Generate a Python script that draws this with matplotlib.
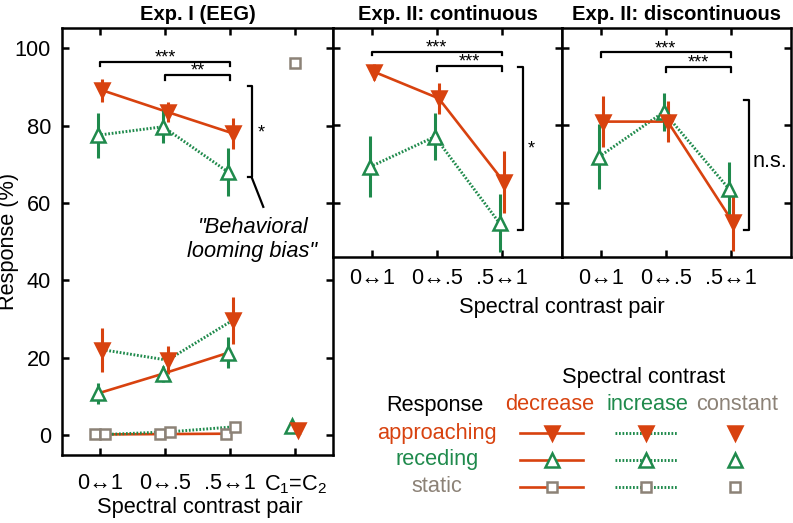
import numpy as np
import matplotlib.pyplot as plt

plt.rcParams['font.family'] = ['Liberation Sans', 'DejaVu Sans']
plt.rcParams['mathtext.default'] = 'regular'

RED = '#d8420f'
GREEN = '#1f8a4c'
GRAY = '#8c8277'

pairs3 = ['0\u21941', '0\u2194.5', '.5\u21941']
pairs4 = pairs3 + ['C$_1$=C$_2$']
x3 = np.array([1, 2, 3])

# Exp. I (EEG)  -- app = approaching, rec = receding, sta = static
e1_app_dec = [89.1, 83.5, 78.0]
e1_app_dec_err = [2.9, 2.5, 4.0]
e1_rec_inc = [77.5, 79.7, 68.0]
e1_rec_inc_err = [5.8, 4.3, 6.3]
e1_app_inc = [22.1, 19.4, 29.7]
e1_app_inc_err = [5.7, 3.7, 6.1]
e1_rec_dec = [10.8, 15.9, 21.3]
e1_rec_dec_err = [2.6, 2.1, 4.0]
e1_sta_dec = [0.2, 0.3, 0.4]
e1_sta_inc = [0.2, 0.9, 2.2]
e1_const_app = 1.3
e1_const_rec = 2.4
e1_const_sta = 96.2

# Exp. II continuous
e2c_app_dec = [93.9, 87.0, 65.5]
e2c_app_dec_err = [2.1, 4.1, 8.0]
e2c_rec_inc = [69.3, 77.1, 54.7]
e2c_rec_inc_err = [7.9, 6.0, 7.5]

# Exp. II discontinuous
e2d_app_dec = [81.0, 81.0, 55.1]
e2d_app_dec_err = [6.6, 5.3, 7.5]
e2d_rec_inc = [71.9, 83.5, 63.7]
e2d_rec_inc_err = [8.4, 4.9, 6.8]

FS = 15.7
DOT = (0, (0.6, 0.6))


def series(ax, x, y, err, lc, ls, mk, mc, mfc, ms=10):
    ax.plot(x, y, color=lc, ls=ls, lw=2.1 if ls == DOT else 1.9, zorder=2)
    if err is not None:
        ax.errorbar(x, y, yerr=err, fmt='none', ecolor=mc, elinewidth=2.2, zorder=3)
    ax.plot(x, y, ls='none', marker=mk, ms=ms, mfc=mfc, mec=mc, mew=1.8, zorder=4)


def style(ax, xpad):
    for s in ax.spines.values():
        s.set_linewidth(1.8)
    ax.tick_params(direction='in', top=True, right=True, length=5, width=1.8,
                   labelsize=FS)
    ax.tick_params(axis='x', pad=xpad)
    ax.tick_params(axis='y', pad=8)


def hbracket(ax, x1, x2, y, h, txt, dy):
    ax.plot([x1, x1, x2, x2], [y - h, y, y, y - h], color='k', lw=1.6)
    ax.text((x1 + x2) / 2, y + dy, txt, ha='center', va='center', fontsize=13)


def vbracket(ax, x, y1, y2, w):
    ax.plot([x - w, x, x, x - w], [y1, y1, y2, y2], color='k', lw=1.6, clip_on=False)


fig = plt.figure(figsize=(7.93, 5.23), dpi=100)
W, H = 793, 523
ax1 = fig.add_axes([62 / W, 1 - 455 / H, 271 / W, 427 / H])
ax2 = fig.add_axes([333 / W, 1 - 257 / H, 229 / W, 229 / H])
ax3 = fig.add_axes([562 / W, 1 - 257 / H, 229 / W, 229 / H])

# --- Exp. I
series(ax1, x3 - 0.03, e1_rec_inc, e1_rec_inc_err, GREEN, DOT, '^', GREEN, 'white')
series(ax1, x3 + 0.04, e1_app_dec, e1_app_dec_err, RED, '-', 'v', RED, RED)
series(ax1, x3 - 0.03, e1_rec_dec, e1_rec_dec_err, RED, '-', '^', GREEN, 'white')
series(ax1, x3 + 0.04, e1_app_inc, e1_app_inc_err, GREEN, DOT, 'v', RED, RED)
series(ax1, x3 - 0.07, e1_sta_dec, None, RED, '-', 's', GRAY, 'white', ms=6.5)
series(ax1, x3 + 0.08, e1_sta_inc, None, GREEN, DOT, 's', GRAY, 'white', ms=6.5)
ax1.plot([4 - 0.05], [e1_const_rec], ls='none', marker='^', ms=10, mfc='white', mec=GREEN, mew=1.8)
ax1.plot([4 + 0.05], [e1_const_app], ls='none', marker='v', ms=10, mfc=RED, mec=RED, mew=1.8)
ax1.plot([4], [e1_const_sta], ls='none', marker='s', ms=6.5, mfc='white', mec=GRAY, mew=1.8)

ax1.set_xlim(0.42, 4.58)
ax1.set_ylim(-5.1, 105.2)
ax1.set_xticks([1, 2, 3, 4])
ax1.set_xticklabels(pairs4)
ax1.set_yticks([0, 20, 40, 60, 80, 100])
style(ax1, 13)
ax1.set_title('Exp. I (EEG)', fontsize=14.5, fontweight='bold', pad=6)
hbracket(ax1, 1, 3, 96.5, 1.2, '***', 1.0)
hbracket(ax1, 2, 3, 93.0, 1.3, '**', 1.0)
vbracket(ax1, 3.33, 66.7, 90.2, 0.05)
ax1.text(3.48, 78.0, '*', ha='center', va='center', fontsize=13)
ax1.plot([3.33, 3.51], [66.7, 59.0], color='k', lw=1.6)
ax1.text(3.34, 50.6, '"Behavioral\nlooming bias"', ha='center', va='center',
         fontsize=FS, style='italic', linespacing=1.2)

# --- Exp. II
for ax, app, app_e, rec, rec_e, title in [
        (ax2, e2c_app_dec, e2c_app_dec_err, e2c_rec_inc, e2c_rec_inc_err, 'Exp. II: continuous'),
        (ax3, e2d_app_dec, e2d_app_dec_err, e2d_rec_inc, e2d_rec_inc_err, 'Exp. II: discontinuous')]:
    series(ax, x3 - 0.03, rec, rec_e, GREEN, DOT, '^', GREEN, 'white')
    series(ax, x3 + 0.03, app, app_e, RED, '-', 'v', RED, RED)
    ax.set_xlim(0.4, 3.93)
    ax.set_ylim(46.0, 105.2)
    ax.set_xticks([1, 2, 3])
    ax.set_xticklabels(pairs3)
    ax.set_yticks([60, 80, 100])
    ax.set_yticklabels([])
    style(ax, 8)
    ax.set_title(title, fontsize=14.5, fontweight='bold', pad=6)

hbracket(ax2, 1, 3, 99.0, 0.9, '***', 1.0)
hbracket(ax2, 2, 3, 95.3, 1.2, '***', 1.0)
vbracket(ax2, 3.33, 53.1, 95.2, 0.08)
ax2.text(3.45, 74.0, '*', ha='center', va='center', fontsize=13)

hbracket(ax3, 1, 3, 98.9, 1.3, '***', 1.0)
hbracket(ax3, 2, 3, 95.2, 1.3, '***', 1.0)
vbracket(ax3, 3.28, 53.1, 86.6, 0.08)
ax3.text(3.33, 70.6, 'n.s.', ha='left', va='center', fontsize=FS)

fig.text(9 / W, 1 - 241 / H, 'Response (%)', rotation=90, ha='center', va='center', fontsize=FS)
fig.text(200 / W, 1 - 508 / H, 'Spectral contrast pair', ha='center', va='center', fontsize=FS)
fig.text(562 / W, 1 - 308 / H, 'Spectral contrast pair', ha='center', va='center', fontsize=FS)

# --- legend block
lg = fig.add_axes([0, 0, 1, 1])
lg.set_xlim(0, W)
lg.set_ylim(H, 0)
lg.axis('off')
lg.text(644, 377, 'Spectral contrast', ha='center', va='center', fontsize=FS)
lg.text(435, 405, 'Response', ha='center', va='center', fontsize=FS)
for cx, name, c in [(550, 'decrease', RED), (647, 'increase', GREEN), (737, 'constant', GRAY)]:
    lg.text(cx, 405, name, ha='center', va='center', fontsize=FS, color=c)
rows = [('approaching', RED, 'v', RED, RED, 10), ('receding', GREEN, '^', GREEN, 'white', 10),
        ('static', GRAY, 's', GRAY, 'white', 6.5)]
for i, (name, c, mk, mc, mfc, ms) in enumerate(rows):
    y = 433 + 27 * i
    lg.text(437, y, name, ha='center', va='center', fontsize=FS, color=c)
    lg.plot([520, 583], [y, y], color=RED, lw=1.9)
    lg.plot([552], [y], marker=mk, ms=ms, mfc=mfc, mec=mc, mew=1.8)
    lg.plot([615, 677], [y, y], color=GREEN, lw=2.1, ls=DOT)
    lg.plot([646], [y], marker=mk, ms=ms, mfc=mfc, mec=mc, mew=1.8)
    lg.plot([735], [y], marker=mk, ms=ms, mfc=mfc, mec=mc, mew=1.8)

fig.savefig('out.png', dpi=100)
